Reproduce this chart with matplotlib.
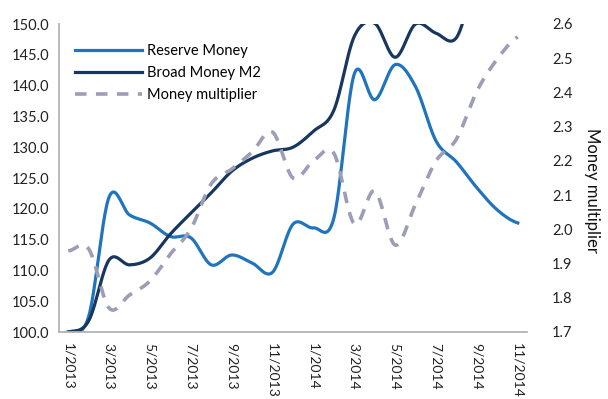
import matplotlib.pyplot as plt
import numpy as np

plt.rcParams['font.family'] = ['Lato', 'DejaVu Sans']

# monthly series, Jan 2013 - Nov 2014 (index, Jan 2013 = 100)
months = ['1/2013', '2/2013', '3/2013', '4/2013', '5/2013', '6/2013',
          '7/2013', '8/2013', '9/2013', '10/2013', '11/2013', '12/2013',
          '1/2014', '2/2014', '3/2014', '4/2014', '5/2014', '6/2014',
          '7/2014', '8/2014', '9/2014', '10/2014', '11/2014']
reserve_money = [100.0, 102.5, 121.9, 119.0, 117.7, 115.5, 115.3, 110.9,
                 112.5, 111.2, 109.7, 117.5, 116.9, 118.5, 141.9, 137.7,
                 143.4, 139.8, 131.0, 127.6, 123.4, 119.8, 117.7]
broad_money = [100.0, 101.8, 111.7, 110.9, 112.0, 115.9, 119.3, 122.6,
               126.1, 128.2, 129.4, 130.0, 132.6, 136.0, 148.0, 150.1,
               144.6, 150.0, 148.5, 147.8, 157.5, 160.0, 162.0]
money_multiplier = [1.937, 1.943, 1.770, 1.808, 1.849, 1.928, 2.001, 2.133,
                    2.176, 2.226, 2.284, 2.150, 2.200, 2.222, 2.016, 2.112,
                    1.954, 2.074, 2.200, 2.264, 2.404, 2.498, 2.562]

RESERVE_C = '#1f74bd'
BROAD_C = '#17375e'
MULT_C = '#9c9eb8'


def smooth(values, steps=24):
    """Catmull-Rom curve through the points, x = month index."""
    y = np.asarray(values, dtype=float)
    p = np.concatenate([[y[0]], y, [y[-1]]])
    t = np.linspace(0, 1, steps, endpoint=False)
    xs, ys = [], []
    for i in range(len(y) - 1):
        p0, p1, p2, p3 = p[i], p[i + 1], p[i + 2], p[i + 3]
        m1 = (p2 - p0) / 2
        m2 = (p3 - p1) / 2
        h00 = 2 * t**3 - 3 * t**2 + 1
        h10 = t**3 - 2 * t**2 + t
        h01 = -2 * t**3 + 3 * t**2
        h11 = t**3 - t**2
        xs.append(i + t)
        ys.append(h00 * p1 + h10 * m1 + h01 * p2 + h11 * m2)
    xs.append([len(y) - 1])
    ys.append([y[-1]])
    return np.concatenate(xs), np.concatenate(ys)


fig = plt.figure(figsize=(6.08, 3.99), dpi=100)
ax = fig.add_axes([59 / 608, 1 - 332 / 399, 468 / 608, 308 / 399])
ax2 = ax.twinx()

x, y = smooth(reserve_money)
l1, = ax.plot(x, y, color=RESERVE_C, lw=2.3, label='Reserve Money')
x, y = smooth(broad_money)
l2, = ax.plot(x, y, color=BROAD_C, lw=2.3, label='Broad Money M2')
x, y = smooth(money_multiplier)
l3, = ax2.plot(x, y, color=MULT_C, lw=2.6, dashes=(3.2, 2.6),
               label='Money multiplier')

ax.set_xlim(-0.45, len(months) - 1 + 0.45)
ax.set_ylim(100, 150)
ax2.set_ylim(1.7, 2.6)

ax.set_yticks(np.arange(100, 151, 5))
ax.set_yticklabels([f'{v:.1f}' for v in np.arange(100, 151, 5)])
ax2.set_yticks(np.arange(1.7, 2.61, 0.1))
ax2.set_yticklabels([f'{v:.1f}' for v in np.arange(1.7, 2.61, 0.1)])
ax.set_xticks(range(0, len(months), 2))
ax.set_xticklabels(months[::2], rotation=-90, ha='center', va='top')

ax.tick_params(axis='y', length=0, pad=7, labelsize=10.5, colors='#222222')
ax.tick_params(axis='x', length=0, pad=8, labelsize=10, colors='#222222')
ax2.tick_params(axis='y', length=0, pad=18, labelsize=10.5, colors='#222222')

for a in (ax, ax2):
    for s in ('top', 'right'):
        a.spines[s].set_visible(False)
    a.spines['left'].set_visible(a is ax)
    a.spines['bottom'].set_visible(a is ax)
ax.spines['left'].set_color('#b3b3b3')
ax.spines['bottom'].set_color('#b3b3b3')
ax.spines['left'].set_linewidth(1.3)
ax.spines['bottom'].set_linewidth(1.3)

fig.text(592 / 608, 1 - 190 / 399, 'Money multiplier', rotation=-90,
         ha='center', va='center', fontsize=12, color='#111111')

ax2.legend(handles=[l1, l2, l3], loc='upper left', frameon=False,
           bbox_to_anchor=(0.035, 0.935), borderaxespad=0, borderpad=0,
           handlelength=4.6, handletextpad=0.3, labelspacing=0.55,
           fontsize=10.5)

fig.savefig('out.png', dpi=100)
